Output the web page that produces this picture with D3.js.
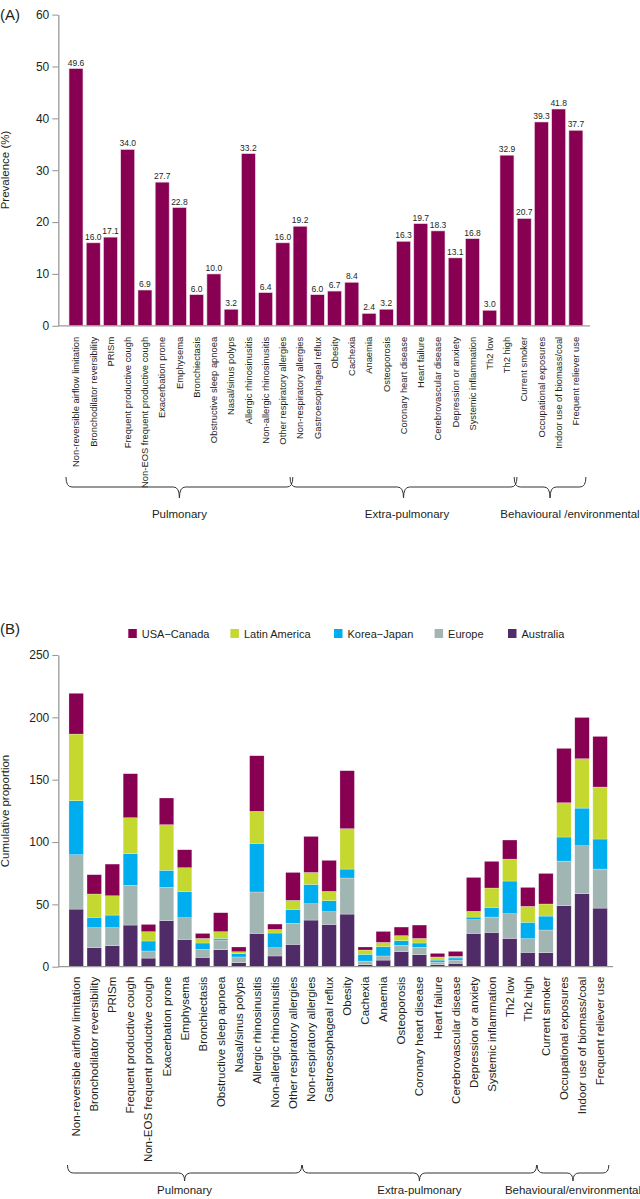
<!DOCTYPE html>
<html><head><meta charset="utf-8">
<script src="https://cdn.jsdelivr.net/npm/d3@7"></script>
<style>
html,body{margin:0;padding:0;background:#fff;}
svg{display:block;font-family:"Liberation Sans",Arial,Helvetica,sans-serif;}
</style></head>
<body>
<svg id="chart" width="640" height="1199"></svg>
<script>
const categories = ["Non-reversible airflow limitation","Bronchodilator reversibility","PRISm","Frequent productive cough","Non-EOS frequent productive cough","Exacerbation prone","Emphysema","Bronchiectasis","Obstructive sleep apnoea","Nasal/sinus polyps","Allergic rhinosinusitis","Non-allergic rhinosinusitis","Other respiratory allergies","Non-respiratory allergies","Gastroesophageal reflux","Obesity","Cachexia","Anaemia","Osteoporosis","Coronary heart disease","Heart failure","Cerebrovascular disease","Depression or anxiety","Systemic inflammation","Th2 low","Th2 high","Current smoker","Occupational exposures","Indoor use of biomass/coal","Frequent reliever use"];
const prevalence = [49.6,16.0,17.1,34.0,6.9,27.7,22.8,6.0,10.0,3.2,33.2,6.4,16.0,19.2,6.0,6.7,8.4,2.4,3.2,16.3,19.7,18.3,13.1,16.8,3.0,32.9,20.7,39.3,41.8,37.7];
const groupsA = ["Pulmonary","Extra-pulmonary","Behavioural /environmental"];
const groupsB = ["Pulmonary","Extra-pulmonary","Behavioural/environmental"];
const groupFirst = ["Non-reversible airflow limitation","Non-respiratory allergies","Current smoker"];
const groupLast = ["Other respiratory allergies","Th2 high","Frequent reliever use"];
const regions = ["Australia","Europe","Korea\u2212Japan","Latin America","USA\u2212Canada"];
const legendOrder = ["USA\u2212Canada","Latin America","Korea\u2212Japan","Europe","Australia"];
const australia = [46.2,15.2,16.8,33.4,6.9,36.9,21.9,7.5,13.6,3.2,26.7,8.6,17.9,37.4,33.9,42.2,1.6,5.3,12.0,9.6,1.6,2.7,26.7,27.5,22.7,11.5,11.2,48.9,58.5,47.0];
const europe = [43.6,16.1,14.5,31.8,5.7,26.7,17.4,6.4,7.8,4.6,33.2,6.6,16.9,13.1,10.2,28.9,2.9,3.3,5.1,5.9,2.1,2.6,11.0,12.3,19.8,11.0,18.2,35.8,38.5,31.3];
const koreaJapan = [43.3,8.3,10.1,25.4,8.0,13.7,20.8,5.1,1.3,2.6,39.0,11.8,11.2,15.5,8.8,7.2,5.4,7.4,3.7,3.5,1.6,1.7,2.1,7.8,26.2,13.1,11.2,19.3,30.2,24.1];
const latinAmerica = [53.5,18.7,15.5,28.9,7.5,36.6,19.3,3.7,5.4,1.6,25.7,2.9,7.2,9.6,7.5,32.4,3.5,3.5,4.1,3.7,2.5,1.3,4.6,15.5,17.6,12.8,9.7,27.5,39.6,41.7];
const usaCanada = [32.7,15.5,25.4,35.3,5.8,21.4,14.4,4.0,15.2,3.8,44.6,4.3,22.4,28.9,24.9,46.5,2.4,8.8,6.9,10.7,2.9,4.0,27.2,21.4,15.3,15.2,24.5,43.6,33.1,40.6];
const ticksA = [0,10,20,30,40,50,60];
const ticksB = [0,50,100,150,200,250];

const colors = {"Australia":"#4f2c68","Europe":"#a1b5b3","Korea\u2212Japan":"#00aeef","Latin America":"#c4d82f","USA\u2212Canada":"#870052"};
const barColor = "#870052";
const axisColor = "#9a9a9a";
const textColor = "#231f20";

const svg = d3.select("#chart");

function bracket(x1, x2, yTop, yMid, yTip) {
  const xm = (x1 + x2) / 2, r = 6;
  return `M${x1},${yTop} Q${x1},${yMid} ${x1+r},${yMid} L${xm-r},${yMid} Q${xm},${yMid} ${xm},${yTip} Q${xm},${yMid} ${xm+r},${yMid} L${x2-r},${yMid} Q${x2},${yMid} ${x2},${yTop}`;
}

function drawPanel(cfg) {
  const g = svg.append("g");
  const x = d3.scaleBand().domain(categories).range([cfg.x0, cfg.x1]).paddingInner(cfg.pi).paddingOuter(cfg.po);
  const y = d3.scaleLinear().domain(cfg.domain).range([cfg.y0, cfg.yTop]);

  const ya = g.append("g").attr("transform", `translate(${cfg.x0},0)`)
    .call(d3.axisLeft(y).tickValues(cfg.ticks).tickSize(6).tickPadding(3).tickSizeOuter(0));
  ya.select(".domain").attr("stroke", axisColor).attr("stroke-width", 1.3);
  ya.selectAll(".tick line").attr("stroke", axisColor).attr("stroke-width", 1.1);
  ya.selectAll(".tick text").attr("fill", textColor).style("font-size", cfg.tickFont + "px").style("font-family", "inherit");

  g.append("text").attr("transform", `translate(${cfg.titleX},${cfg.titleY}) rotate(-90)`)
    .attr("text-anchor", "middle").attr("fill", textColor).style("font-size", "11.5px").text(cfg.title);

  cfg.drawBars(g, x, y);

  g.append("line").attr("x1", cfg.x0).attr("x2", cfg.xEnd).attr("y1", cfg.y0).attr("y2", cfg.y0)
    .attr("stroke", axisColor).attr("stroke-width", 1.3);

  g.selectAll("text.cat").data(categories).join("text").attr("class", "cat")
    .attr("transform", d => `translate(${x(d) + x.bandwidth()/2},${cfg.y0 + cfg.labelGap}) rotate(-90)`)
    .attr("text-anchor", "end").attr("dy", "0.35em").attr("fill", textColor)
    .style("font-size", cfg.catFont + "px").text(d => d);

  cfg.groups.forEach((gr, i) => {
    const a = x(groupFirst[i]) - cfg.bpad, b = x(groupLast[i]) + x.bandwidth() + cfg.bpad;
    g.append("path").attr("d", bracket(a, b, cfg.bTop, cfg.bMid, cfg.bTip))
      .attr("fill", "none").attr("stroke", "#333").attr("stroke-width", 1);
    const lx = cfg.gLabelX[i] != null ? cfg.gLabelX[i] : (a + b) / 2;
    g.append("text").attr("x", lx).attr("y", cfg.gLabelY).attr("text-anchor", "middle")
      .attr("fill", textColor).style("font-size", "11.5px").text(gr);
  });

  g.append("text").attr("x", 0).attr("y", cfg.letterY).attr("fill", textColor)
    .style("font-size", "15px").text(cfg.letter);
}

drawPanel({
  letter: "(A)", letterY: 20, groups: groupsA, gLabelX: [null, 407, 570],
  x0: 58.3, x1: 593.6, xEnd: 590, pi: 0.188, po: 0.62,
  y0: 325.8, yTop: 14.6, domain: [0, 60], ticks: ticksA, tickFont: 12,
  title: "Prevalence (%)", titleX: 9, titleY: 170,
  labelGap: 11, catFont: 9.4,
  bpad: 3, bTop: 477, bMid: 487, bTip: 498, gLabelY: 518,
  drawBars: (g, x, y) => {
    g.selectAll("rect.bar").data(categories).join("rect").attr("class", "bar")
      .attr("x", d => x(d)).attr("width", x.bandwidth())
      .attr("y", (d, i) => y(prevalence[i])).attr("height", (d, i) => y(0) - y(prevalence[i]))
      .attr("fill", barColor).attr("stroke", "#f3dbe6").attr("stroke-width", 0.6);
    g.selectAll("text.val").data(categories).join("text").attr("class", "val")
      .attr("x", d => x(d) + x.bandwidth()/2).attr("y", (d, i) => y(prevalence[i]) - 3)
      .attr("text-anchor", "middle").attr("fill", textColor).style("font-size", "8.5px")
      .text((d, i) => prevalence[i].toFixed(1));
  }
});

const seriesVals = {"Australia": australia, "Europe": europe, "Korea\u2212Japan": koreaJapan, "Latin America": latinAmerica, "USA\u2212Canada": usaCanada};
const tableB = categories.map((c, i) => {
  const o = {cat: c};
  regions.forEach(r => o[r] = seriesVals[r][i]);
  return o;
});
drawPanel({
  letter: "(B)", letterY: 634, groups: groupsB, gLabelX: [null, null, null],
  x0: 58.3, x1: 618, xEnd: 613, pi: 0.198, po: 0.59,
  y0: 966.7, yTop: 655, domain: [0, 250], ticks: ticksB, tickFont: 12,
  title: "Cumulative proportion", titleX: 9, titleY: 811,
  labelGap: 10, catFont: 11.5,
  bpad: 1.5, bTop: 1165, bMid: 1173, bTip: 1181, gLabelY: 1194,
  drawBars: (g, x, y) => {
    const stacked = d3.stack().keys(regions)(tableB);
    g.selectAll("g.layer").data(stacked).join("g").attr("class", "layer")
      .attr("fill", d => colors[d.key])
      .selectAll("rect").data(d => d).join("rect")
      .attr("x", d => x(d.data.cat)).attr("width", x.bandwidth())
      .attr("y", d => y(d[1])).attr("height", d => y(d[0]) - y(d[1]))
      .attr("stroke", "#ffffff").attr("stroke-opacity", 0.5).attr("stroke-width", 0.5);
  }
});

const legendX = [128.3, 230.4, 334, 434.6, 508];
const lg = svg.append("g");
legendOrder.forEach((k, i) => {
  lg.append("rect").attr("x", legendX[i]).attr("y", 629).attr("width", 8.5).attr("height", 9).attr("fill", colors[k]);
  lg.append("text").attr("x", legendX[i] + 13.5).attr("y", 638).attr("fill", textColor)
    .style("font-size", "11px").text(k);
});
</script>
</body></html>
